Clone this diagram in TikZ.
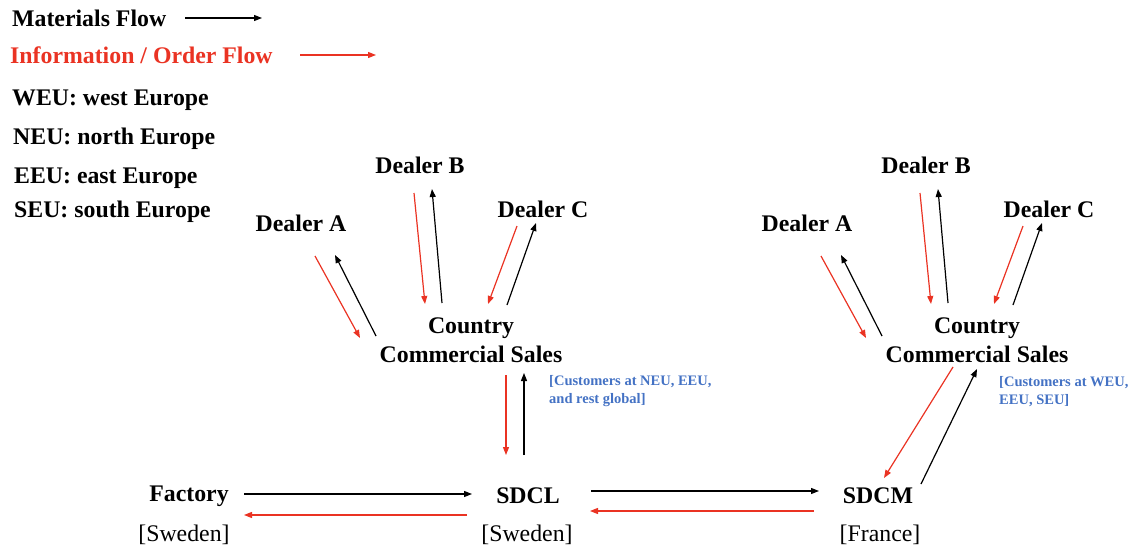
\documentclass[tikz,border=0pt]{standalone}
\usepackage{fontspec}
\setmainfont{Liberation Serif}
\usetikzlibrary{arrows.meta,calc}
\definecolor{infored}{RGB}{234,51,35}
\definecolor{noteblue}{RGB}{68,114,196}
\tikzset{
 lbl/.style={font=\fontsize{23.8}{29}\selectfont\bfseries, inner sep=0pt, align=center},
 leg/.style={font=\fontsize{23.8}{29}\selectfont\bfseries, inner sep=0pt, anchor=base west},
 loc/.style={font=\fontsize{23.8}{29}\selectfont, inner sep=0pt},
 note/.style={font=\fontsize{14.5}{18}\selectfont\bfseries, text=noteblue, inner sep=0pt, anchor=north west, align=left},
 mat/.style={draw=black, line width=1.2pt, -{Triangle[length=8pt,width=6pt]}},
 info/.style={draw=infored, line width=1.2pt, -{Triangle[length=8pt,width=6pt]}},
}
\begin{document}
\begin{tikzpicture}[x=1pt,y=-1pt]
\useasboundingbox (0,0) rectangle (1135,552);
% legend
\node[leg] (lmat) at (12,26) {Materials Flow};
\node[leg,text=infored] (linfo) at (10,63) {Information / Order Flow};
\node[leg] (lweu) at (12,105) {WEU: west Europe};
\node[leg] (lneu) at (13,144) {NEU: north Europe};
\node[leg] (leeu) at (14,183) {EEU: east Europe};
\node[leg] (lseu) at (14,217) {SEU: south Europe};
\coordinate (m0) at (185,18); \coordinate (m1) at (262,18);
\coordinate (i0) at (300,55); \coordinate (i1) at (376,55);
\draw[mat] (m0) -- (m1);
\draw[info] (i0) -- (i1);
% left cluster
\node[lbl] (dA) at (301,223) {Dealer A};
\node[lbl] (dB) at (420,165) {Dealer B};
\node[lbl] (dC) at (543,209) {Dealer C};
\node[lbl] (ccs) at (471,340) {Country\\Commercial Sales};
\node[note] (n1) at (549,375) {[Customers at NEU, EEU,\\and rest global]};
% right cluster
\node[lbl] (dA2) at (807,223) {Dealer A};
\node[lbl] (dB2) at (926,165) {Dealer B};
\node[lbl] (dC2) at (1049,209) {Dealer C};
\node[lbl] (ccs2) at (977,340) {Country\\Commercial Sales};
\node[note] (n2) at (999,376) {[Customers at WEU,\\EEU, SEU]};
% bottom row
\node[lbl] (fac) at (189,496) {Factory};
\node[loc] (facl) at (184,535) {[Sweden]};
\node[lbl] (sdcl) at (528,496) {SDCL};
\node[loc] (sdcll) at (527,535) {[Sweden]};
\node[lbl] (sdcm) at (878,496) {SDCM};
\node[loc] (sdcml) at (880,535) {[France]};
% left cluster arrows
\draw[info] ($(dA)+(14,33)$) -- ($(ccs)+(-111,-2)$);
\draw[mat] ($(ccs)+(-95,-4)$) -- ($(dA)+(34,32)$);
\draw[info] ($(dB)+(-6,28)$) -- ($(ccs)+(-46,-36)$);
\draw[mat] ($(ccs)+(-29,-37)$) -- ($(dB)+(12,24)$);
\draw[info] ($(dC)+(-26,17)$) -- ($(ccs)+(17,-36)$);
\draw[mat] ($(ccs)+(36,-35)$) -- ($(dC)+(-7,14)$);
\draw[info] ($(ccs)+(35,35)$) -- ($(sdcl)+(-22,-41)$);
\draw[mat] ($(sdcl)+(-4,-41)$) -- ($(ccs)+(53,33)$);
% right cluster arrows
\draw[info] ($(dA2)+(14,33)$) -- ($(ccs2)+(-111,-2)$);
\draw[mat] ($(ccs2)+(-95,-4)$) -- ($(dA2)+(34,32)$);
\draw[info] ($(dB2)+(-6,28)$) -- ($(ccs2)+(-46,-36)$);
\draw[mat] ($(ccs2)+(-29,-37)$) -- ($(dB2)+(12,24)$);
\draw[info] ($(dC2)+(-26,17)$) -- ($(ccs2)+(17,-36)$);
\draw[mat] ($(ccs2)+(36,-35)$) -- ($(dC2)+(-7,14)$);
\draw[info] ($(ccs2)+(-24,27)$) -- ($(sdcm)+(6,-18)$);
\draw[mat] ($(sdcm)+(43,-12)$) -- ($(ccs2)+(0,29)$);
% bottom arrows
\draw[mat] ($(fac)+(55,-2)$) -- ($(sdcl)+(-56,-2)$);
\draw[info] ($(sdcl)+(-61,19)$) -- ($(fac)+(55,19)$);
\draw[mat] ($(sdcl)+(63,-5)$) -- ($(sdcm)+(-59,-5)$);
\draw[info] ($(sdcm)+(-64,15)$) -- ($(sdcl)+(62,15)$);
\end{tikzpicture}
\end{document}
